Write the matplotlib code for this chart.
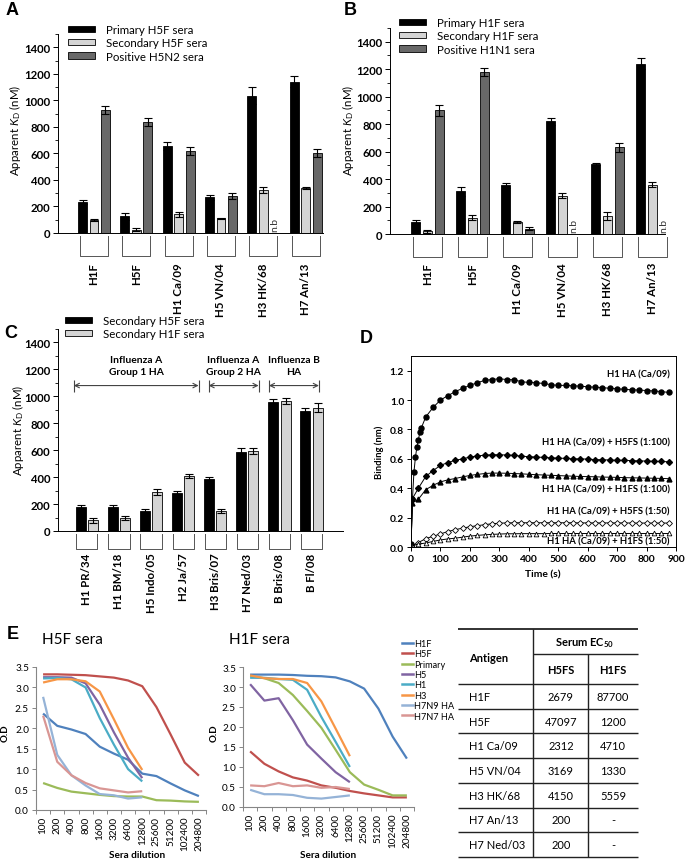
import numpy as np
import matplotlib.pyplot as plt
from matplotlib.patches import Patch
from matplotlib.lines import Line2D
from matplotlib.ticker import MultipleLocator

plt.rcParams['font.family'] = ['Lato', 'DejaVu Sans']
plt.rcParams['mathtext.fontset'] = 'custom'
plt.rcParams['mathtext.rm'] = 'Lato'
plt.rcParams['mathtext.it'] = 'Lato:italic'
plt.rcParams['mathtext.bf'] = 'Lato:bold'

W, H = 685, 862

# ---------------- panel A / B : apparent KD (nM) ----------------
antigens_ab = ['H1F', 'H5F', 'H1 Ca/09', 'H5 VN/04', 'H3 HK/68', 'H7 An/13']

a_primary = [235, 125, 655, 270, 1035, 1140]
a_primary_err = [15, 25, 30, 20, 65, 40]
a_secondary = [100, 25, 140, 110, 325, 340]
a_secondary_err = [8, 12, 20, 5, 20, 8]
a_positive = [925, 840, 620, 280, np.nan, 605]
a_positive_err = [30, 30, 30, 20, 0, 30]
a_labels = ['Primary H5F sera', 'Secondary H5F sera', 'Positive H5N2 sera']

b_primary = [90, 310, 355, 820, 510, 1240]
b_primary_err = [10, 30, 20, 25, 8, 40]
b_secondary = [20, 120, 90, 280, 130, 360]
b_secondary_err = [10, 20, 8, 15, 30, 20]
b_positive = [900, 1180, 40, np.nan, 630, np.nan]
b_positive_err = [40, 30, 10, 0, 30, 0]
b_labels = ['Primary H1F sera', 'Secondary H1F sera', 'Positive H1N1 sera']

# ---------------- panel C ----------------
antigens_c = ['H1 PR/34', 'H1 BM/18', 'H5 Indo/05', 'H2 Ja/57',
              'H3 Bris/07', 'H7 Ned/03', 'B Bris/08', 'B Fl/08']
c_h5f = [175, 180, 145, 280, 385, 585, 955, 890]
c_h5f_err = [20, 10, 15, 15, 15, 30, 25, 20]
c_h1f = [80, 100, 290, 410, 145, 595, 965, 915]
c_h1f_err = [20, 15, 20, 15, 15, 25, 25, 35]
c_labels = ['Secondary H5F sera', 'Secondary H1F sera']
c_groups = ['Influenza A\nGroup 1 HA', 'Influenza A\nGroup 2 HA', 'Influenza B\nHA']
c_group_start = [-0.41, 3.79, 5.67]
c_group_end = [3.48, 5.35, 7.23]

# ---------------- panel D : binding kinetics ----------------
t_ca09 = [0, 5, 10, 15, 20, 25, 30, 35, 50, 75, 100, 125, 150, 175, 200, 225, 250,
          275, 300, 325, 350, 375, 400, 425, 450, 475, 500, 525, 550, 575, 600,
          625, 650, 675, 700, 725, 750, 775, 800, 825, 850, 875]
bind_ca09 = [0.02, 0.33, 0.51, 0.61, 0.68, 0.73, 0.78, 0.81, 0.885, 0.95, 1.00, 1.03,
             1.057, 1.08, 1.10, 1.118, 1.134, 1.14, 1.145, 1.14, 1.138, 1.125, 1.12,
             1.118, 1.113, 1.105, 1.10, 1.10, 1.097, 1.095, 1.09, 1.088, 1.085, 1.08,
             1.077, 1.073, 1.07, 1.068, 1.065, 1.062, 1.058, 1.052]
t_sera = [0, 5, 25, 50, 75, 100, 125, 150, 175, 200, 225, 250, 275, 300, 325, 350,
          375, 400, 425, 450, 475, 500, 525, 550, 575, 600, 625, 650, 675, 700,
          725, 750, 775, 800, 825, 850, 875]
bind_h5fs_100 = [0.01, 0.33, 0.40, 0.48, 0.52, 0.555, 0.575, 0.59, 0.60, 0.612, 0.62,
                 0.625, 0.628, 0.628, 0.626, 0.624, 0.618, 0.615, 0.612, 0.61, 0.607,
                 0.605, 0.603, 0.60, 0.60, 0.598, 0.595, 0.594, 0.592, 0.59, 0.59,
                 0.588, 0.586, 0.585, 0.583, 0.582, 0.58]
bind_h1fs_100 = [0.01, 0.30, 0.325, 0.39, 0.42, 0.443, 0.457, 0.466, 0.477, 0.487,
                 0.494, 0.50, 0.503, 0.503, 0.502, 0.50, 0.498, 0.495, 0.492, 0.49,
                 0.488, 0.486, 0.484, 0.482, 0.48, 0.479, 0.478, 0.476, 0.475, 0.474,
                 0.472, 0.471, 0.47, 0.469, 0.468, 0.467, 0.465]
t_low = [0, 25, 50, 75, 100, 125, 150, 175, 200, 225, 250, 275, 300, 325, 350, 375,
         400, 425, 450, 475, 500, 525, 550, 575, 600, 625, 650, 675, 700, 725, 750,
         775, 800, 825, 850, 875]
bind_h5fs_50 = [0.005, 0.03, 0.057, 0.073, 0.089, 0.105, 0.118, 0.128, 0.138, 0.145,
                0.152, 0.158, 0.162, 0.164, 0.165, 0.165, 0.165, 0.165, 0.165, 0.165,
                0.165, 0.165, 0.165, 0.164, 0.164, 0.164, 0.164, 0.164, 0.164, 0.164,
                0.163, 0.163, 0.163, 0.163, 0.163, 0.163]
bind_h1fs_50 = [0.005, 0.02, 0.027, 0.038, 0.048, 0.055, 0.06, 0.067, 0.074, 0.079,
                0.083, 0.086, 0.088, 0.09, 0.09, 0.091, 0.091, 0.091, 0.091, 0.092,
                0.092, 0.092, 0.092, 0.092, 0.092, 0.092, 0.092, 0.092, 0.092, 0.092,
                0.092, 0.092, 0.092, 0.092, 0.092, 0.092]
d_labels = ['H1 HA (Ca/09)', 'H1 HA (Ca/09) + H5FS (1:100)', 'H1 HA (Ca/09) + H1FS (1:100)',
            'H1 HA (Ca/09) + H5FS (1:50)', 'H1 HA (Ca/09) + H1FS (1:50)']
d_label_y = [1.177, 0.714, 0.397, 0.246, 0.041]

# ---------------- panel E : ELISA O.D ----------------
dilutions = ['100', '200', '400', '800', '1600', '3200', '6400', '12800',
             '25600', '51200', '102400', '204800']
e_names = ['H1F', 'H5F', 'Primary', 'H5', 'H1', 'H3', 'H7N9 HA', 'H7N7 HA']
e_colors = ['#4F81BD', '#C0504D', '#9BBB59', '#8064A2', '#4BACC6', '#F79646',
            '#95B3D7', '#D99694']

h5fs_H1F = [2.36, 2.06, 1.97, 1.86, 1.55, 1.38, 1.23, 0.89, 0.83, 0.65, 0.48, 0.34]
h5fs_H5F = [3.32, 3.32, 3.31, 3.30, 3.27, 3.24, 3.17, 3.03, 2.52, 1.85, 1.16, 0.84]
h5fs_primary = [0.66, 0.54, 0.45, 0.41, 0.37, 0.34, 0.33, 0.33, 0.24, 0.23, 0.21, 0.20]
h5fs_H5 = [3.25, 3.25, 3.24, 3.10, 2.58, 1.90, 1.28, 0.78]
h5fs_H1 = [3.22, 3.23, 3.20, 3.00, 2.25, 1.60, 1.00, 0.70]
h5fs_H3 = [3.12, 3.20, 3.20, 3.15, 2.90, 2.22, 1.52, 0.98]
h5fs_H7N9 = [2.77, 1.35, 0.85, 0.60, 0.39, 0.36, 0.28, 0.31]
h5fs_H7N7 = [2.31, 1.18, 0.85, 0.66, 0.53, 0.48, 0.43, 0.46]

h1fs_H1F = [3.31, 3.31, 3.31, 3.30, 3.28, 3.27, 3.24, 3.14, 2.96, 2.46, 1.76, 1.21]
h1fs_H5F = [1.39, 1.08, 0.89, 0.74, 0.66, 0.54, 0.48, 0.40, 0.34, 0.29, 0.24, 0.24]
h1fs_primary = [3.27, 3.22, 3.10, 2.80, 2.40, 1.98, 1.43, 0.87, 0.56, 0.43, 0.29, 0.29]
h1fs_H5 = [3.07, 2.66, 2.72, 2.17, 1.56, 1.21, 0.87, 0.62]
h1fs_H1 = [3.23, 3.23, 3.20, 3.18, 2.93, 2.25, 1.63, 1.00]
h1fs_H3 = [3.29, 3.22, 3.20, 3.20, 3.10, 2.64, 1.96, 1.27]
h1fs_H7N9 = [0.43, 0.32, 0.32, 0.30, 0.23, 0.21, 0.25, 0.29]
h1fs_H7N7 = [0.54, 0.52, 0.60, 0.52, 0.54, 0.48, 0.50, 0.45]

# ---------------- table ----------------
table_antigens = ['H1F', 'H5F', 'H1 Ca/09', 'H5 VN/04', 'H3 HK/68', 'H7 An/13', 'H7 Ned/03']
table_h5fs = ['2679', '47097', '2312', '3169', '4150', '200', '200']
table_h1fs = ['87700', '1200', '4710', '1330', '5559', '-', '-']


fig = plt.figure(figsize=(W / 100, H / 100), dpi=100)


def add_ax(l, t, r, b):
    return fig.add_axes([l / W, 1 - b / H, (r - l) / W, (b - t) / H])


def fpos(x, y):
    return (x / W, 1 - y / H)


def panel_letter(x, y, s):
    fig.text(*fpos(x, y), s, fontsize=13, fontweight='bold', family='Liberation Sans',
             va='top', ha='left')


def bar_panel(ax, cats, series, errs, colors, width, offsets, xlim, pad, br_bot):
    x = np.arange(len(cats))
    for vals, err, col, off in zip(series, errs, colors, offsets):
        vals = np.array(vals, float)
        ok = ~np.isnan(vals)
        ax.bar((x + off)[ok], vals[ok], width, color=col, edgecolor='black',
               linewidth=0.6, zorder=2)
        ax.errorbar((x + off)[ok], vals[ok], yerr=np.array(err, float)[ok], fmt='none',
                    ecolor='black', elinewidth=0.8, capsize=3, capthick=0.8, zorder=3)
        for xi in (x + off)[~ok]:
            ax.text(xi, 12, 'n.b', rotation=90, ha='center', va='bottom', fontsize=7.5,
                    color='#333333')
    ax.set_xlim(*xlim)
    ax.set_ylim(0, 1500)
    ax.yaxis.set_minor_locator(MultipleLocator(100))
    ax.set_yticks(np.arange(0, 1401, 200))
    ax.tick_params(axis='y', which='major', direction='out', length=3.5, width=0.7,
                   labelsize=8.2, pad=2)
    ax.tick_params(axis='y', which='minor', direction='out', length=2, width=0.6)
    for lab in ax.get_yticklabels():
        lab.set_fontweight('bold')
    ax.spines['top'].set_visible(False)
    ax.spines['right'].set_visible(False)
    ax.spines['left'].set_linewidth(0.7)
    ax.spines['bottom'].set_linewidth(0.7)
    ax.set_xticks(x)
    ax.set_xticklabels(cats, rotation=90, fontweight='bold', fontsize=8.3)
    ax.tick_params(axis='x', length=0, pad=pad)
    trans = ax.get_xaxis_transform()
    for xi in x:
        ax.plot([xi - 0.33, xi - 0.33, xi + 0.33, xi + 0.33],
                [-0.015, br_bot, br_bot, -0.015], transform=trans, color='#555555',
                lw=0.7, clip_on=False)
    ax.set_ylabel(r'Apparent $\mathit{K}_{\mathrm{D}}$ (nM)', fontsize=8.3)


def bar_legend(ax, labels, colors, x, y):
    handles = [Patch(facecolor=c, edgecolor='black', linewidth=0.6) for c in colors]
    ax.legend(handles, labels, loc='upper left', bbox_to_anchor=fpos(x, y),
              bbox_transform=fig.transFigure, frameon=False, fontsize=8.3,
              handlelength=2.3, handleheight=0.45, labelspacing=0.2,
              handletextpad=1.0, borderpad=0, borderaxespad=0)


grey3 = ['#000000', '#d4d4d4', '#686868']

# ---- A ----
axA = add_ax(58, 35, 323, 234)
bar_panel(axA, antigens_ab, [a_primary, a_secondary, a_positive],
          [a_primary_err, a_secondary_err, a_positive_err], grey3, 0.21,
          [-0.27, 0.0, 0.27], (-0.85, 5.41), 21, -0.115)
bar_legend(axA, a_labels, grey3, 68, 25)
axA.yaxis.set_label_coords(*fpos(23, 130), transform=fig.transFigure)
panel_letter(6, 2, 'A')

# ---- B ----
axB = add_ax(390, 29, 665, 235)
bar_panel(axB, antigens_ab, [b_primary, b_secondary, b_positive],
          [b_primary_err, b_secondary_err, b_positive_err], grey3, 0.2,
          [-0.26, 0.0, 0.26], (-0.83, 5.28), 20, -0.11)
bar_legend(axB, b_labels, grey3, 399, 18)
axB.yaxis.set_label_coords(*fpos(356, 130), transform=fig.transFigure)
panel_letter(344, 2, 'B')

# ---- C ----
axC = add_ax(58, 330, 343, 532)
bar_panel(axC, antigens_c, [c_h5f, c_h1f], [c_h5f_err, c_h1f_err], grey3[:2], 0.31,
          [-0.19, 0.19], (-0.9, 7.98), 15.5, -0.09)
bar_legend(axC, c_labels, grey3[:2], 65, 316)
axC.yaxis.set_label_coords(*fpos(26, 430), transform=fig.transFigure)
for name, x0, x1 in zip(c_groups, c_group_start, c_group_end):
    axC.annotate('', xy=(x0, 1080), xytext=(x1, 1080),
                 arrowprops=dict(arrowstyle='<->', color='#444444', lw=0.8,
                                 shrinkA=0, shrinkB=0, mutation_scale=8))
    axC.vlines([x0, x1], 1035, 1125, color='#444444', lw=0.8)
    axC.text((x0 + x1) / 2, 1228, name, ha='center', va='center', fontsize=7.4,
             fontweight='bold', linespacing=1.35)
panel_letter(4, 325, 'C')

# ---- D ----
axD = add_ax(411, 357, 676, 548)
axD.plot(t_ca09, bind_ca09, '-o', color='black', ms=3.6, lw=0.7)
axD.plot(t_sera, bind_h5fs_100, '-D', color='black', ms=3.0, lw=0.7)
axD.plot(t_sera, bind_h1fs_100, '-^', color='black', ms=3.5, lw=0.7)
axD.plot(t_low, bind_h5fs_50, '-D', color='black', mfc='white', ms=3.0, lw=0.7, mew=0.6)
axD.plot(t_low, bind_h1fs_50, '-^', color='black', mfc='white', ms=3.4, lw=0.7, mew=0.6)
for lab, yl in zip(d_labels, d_label_y):
    axD.text(878, yl, lab, ha='right', va='center', fontsize=6.8, fontweight='bold')
axD.set_xlim(0, 900)
axD.set_ylim(0, 1.3)
axD.set_xticks(np.arange(0, 901, 100))
axD.set_yticks(np.arange(0, 1.21, 0.2))
axD.yaxis.set_major_formatter(plt.FormatStrFormatter('%.1f'))
axD.tick_params(direction='out', length=3, width=0.7, labelsize=7.4, pad=2)
for lab in axD.get_xticklabels() + axD.get_yticklabels():
    lab.set_fontweight('bold')
for sp in axD.spines.values():
    sp.set_linewidth(0.7)
axD.set_xlabel('Time (s)', fontsize=7.4, fontweight='bold')
axD.xaxis.set_label_coords(*fpos(543, 570), transform=fig.transFigure)
axD.set_ylabel('Binding (nm)', fontsize=6.8, fontweight='bold')
axD.yaxis.set_label_coords(*fpos(384, 452), transform=fig.transFigure)
panel_letter(360, 330, 'D')

# ---- E ----
h5fs_series = [h5fs_H1F, h5fs_H5F, h5fs_primary, h5fs_H5, h5fs_H1, h5fs_H3,
               h5fs_H7N9, h5fs_H7N7]
h1fs_series = [h1fs_H1F, h1fs_H5F, h1fs_primary, h1fs_H5, h1fs_H1, h1fs_H3,
               h1fs_H7N9, h1fs_H7N7]


def elisa_panel(ax, series, title, title_x, ylab_x, xlab_x):
    xcat = np.arange(len(dilutions))
    for vals, col in zip(series, e_colors):
        ax.plot(xcat[:len(vals)], vals, color=col, lw=1.6, solid_capstyle='butt')
    ax.set_xlim(-0.5, len(dilutions) - 0.5)
    ax.set_ylim(0, 3.5)
    ax.set_yticks(np.arange(0, 3.51, 0.5))
    ax.yaxis.set_major_formatter(plt.FormatStrFormatter('%.1f'))
    ax.set_xticks(xcat)
    ax.set_xticklabels(dilutions, rotation=90, fontsize=7.2)
    ax.set_xticks(np.arange(-0.5, len(dilutions), 1.0), minor=True)
    ax.tick_params(axis='x', which='major', length=0, pad=4)
    ax.tick_params(axis='x', which='minor', length=3, color='#868686', width=0.7)
    ax.tick_params(axis='y', length=3, color='#868686', width=0.7, labelsize=7.2, pad=2)
    ax.spines['top'].set_visible(False)
    ax.spines['right'].set_visible(False)
    ax.spines['left'].set_color('#868686')
    ax.spines['bottom'].set_color('#868686')
    ax.set_ylabel('O.D', fontsize=7.0, fontweight='bold')
    ax.yaxis.set_label_coords(*fpos(ylab_x, 733), transform=fig.transFigure)
    ax.set_xlabel('Sera dilution', fontsize=7.2, fontweight='bold')
    ax.xaxis.set_label_coords(*fpos(xlab_x, 851), transform=fig.transFigure)
    fig.text(*fpos(title_x, 640), title, fontsize=11, va='center', ha='left')


axE1 = add_ax(36, 668, 206, 811)
elisa_panel(axE1, h5fs_series, 'H5F sera', 42, 10, 137)
axE2 = add_ax(243, 668, 414, 808)
elisa_panel(axE2, h1fs_series, 'H1F sera', 229, 219, 328)
e_handles = [Line2D([], [], color=c, lw=1.8) for c in e_colors]
axE2.legend(e_handles, e_names, loc='upper left', bbox_to_anchor=fpos(402, 640),
            bbox_transform=fig.transFigure, frameon=False, fontsize=6.6,
            handlelength=1.2, handletextpad=0.15, labelspacing=0.15, borderpad=0,
            borderaxespad=0)
panel_letter(7, 626, 'E')

# ---- table ----
axT = add_ax(458, 625, 642, 862)
axT.set_xlim(458, 642)
axT.set_ylim(862, 625)
axT.axis('off')
row_top = 685
row_h = 24.7
n_rows = len(table_antigens)
col_a, col_b, col_c = 469, 561, 613
axT.hlines(630, 458, 638, color='#222222', lw=1.3)
axT.hlines(655, 533, 638, color='#222222', lw=1.0)
axT.hlines([row_top + i * row_h for i in range(n_rows + 1)], 458, 638,
           color='#222222', lw=1.0)
axT.vlines(533, 630, row_top + n_rows * row_h, color='#222222', lw=1.0)
axT.vlines(588, 655, row_top + n_rows * row_h, color='#222222', lw=1.0)
fs_t = 8.0
axT.text(col_a, 659, 'Antigen', fontsize=fs_t, fontweight='bold', va='center')
axT.text(585, 643, r'Serum EC$_{\mathbf{50}}$', fontsize=fs_t, fontweight='bold',
         va='center', ha='center')
axT.text(col_b, 671, 'H5FS', fontsize=fs_t, fontweight='bold', va='center', ha='center')
axT.text(col_c, 671, 'H1FS', fontsize=fs_t, fontweight='bold', va='center', ha='center')
for i, (ag, v5, v1) in enumerate(zip(table_antigens, table_h5fs, table_h1fs)):
    yc = row_top + (i + 0.5) * row_h
    axT.text(col_a, yc, ag, fontsize=fs_t, va='center', ha='left')
    axT.text(col_b, yc, v5, fontsize=fs_t, va='center', ha='center')
    axT.text(col_c, yc, v1, fontsize=fs_t, va='center', ha='center')

fig.savefig('out.png', dpi=100)
